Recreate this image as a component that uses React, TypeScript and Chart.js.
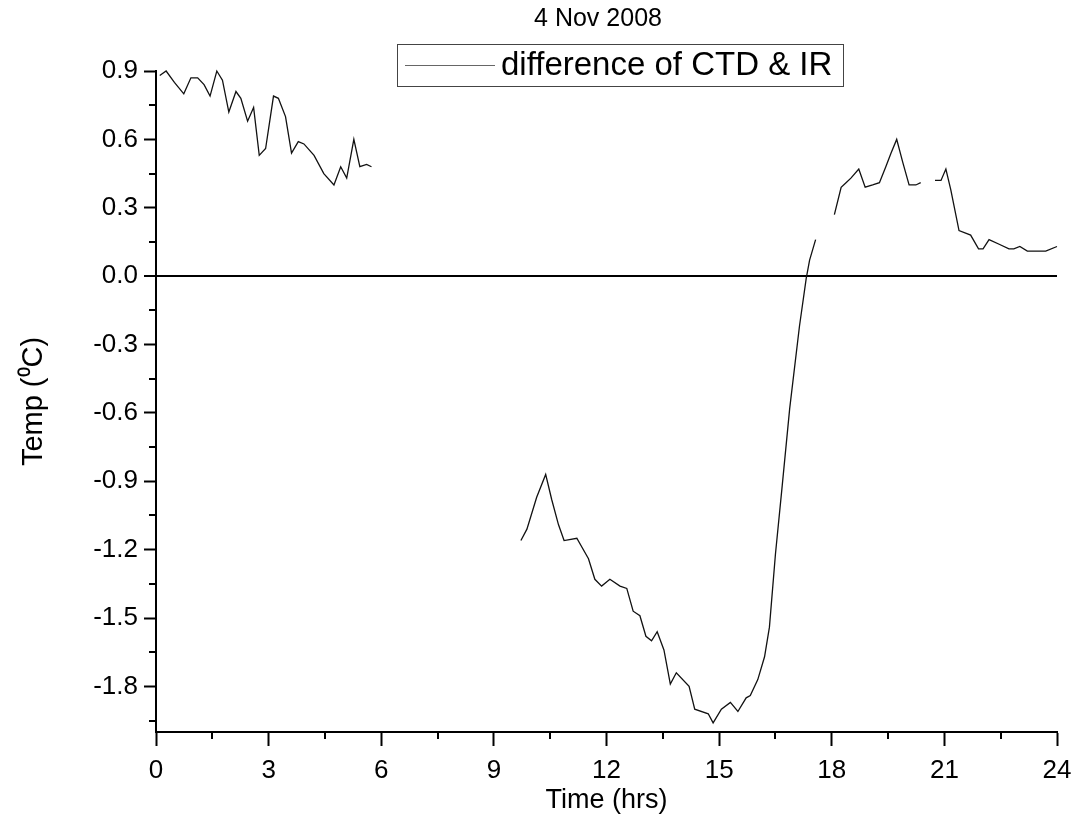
import React, { useEffect, useRef } from 'react';
import { Chart, registerables } from 'chart.js';

Chart.register(...registerables);

const titleText = '4 Nov 2008';
const seriesLabel = 'difference of CTD & IR';
const xAxisTitle = 'Time (hrs)';
const yAxisTitle = 'Temp (\u2070C)';

const xTickValues = [0, 3, 6, 9, 12, 15, 18, 21, 24];
const yTickValues = [-1.8, -1.5, -1.2, -0.9, -0.6, -0.3, 0, 0.3, 0.6, 0.9];
const xMinorTicks = [1.5, 4.5, 7.5, 10.5, 13.5, 16.5, 19.5, 22.5];
const yMinorTicks = [0.75, 0.45, 0.15, -0.15, -0.45, -0.75, -1.05, -1.35, -1.65, -1.95];

// hours of day; null temperature marks a gap in the record
const hours = [
  0.1, 0.27, 0.49, 0.74, 0.93, 1.11, 1.28, 1.44, 1.62, 1.77, 1.94, 2.13, 2.26, 2.44, 2.6, 2.75,
  2.92, 3.13, 3.26, 3.45, 3.61, 3.79, 3.94, 4.21, 4.47, 4.74, 4.92, 5.08, 5.27, 5.43, 5.61, 5.74,
  7.5,
  9.72, 9.88, 10.14, 10.38, 10.54, 10.72, 10.87, 11.21, 11.52, 11.69, 11.87, 12.09, 12.36, 12.54,
  12.71, 12.89, 13.05, 13.2, 13.35, 13.53, 13.7, 13.86, 14.2, 14.35, 14.71, 14.84, 15.06, 15.3,
  15.5, 15.72, 15.83, 16.03, 16.21, 16.34, 16.5, 16.68, 16.88, 17.14, 17.32, 17.41, 17.57,
  17.8,
  18.07, 18.25, 18.38, 18.51, 18.72, 18.89, 19.09, 19.27, 19.44, 19.58, 19.73, 19.89, 20.06,
  20.24, 20.37,
  20.55,
  20.75, 20.91, 21.04, 21.17, 21.39, 21.7, 21.91, 22.03, 22.19, 22.46, 22.72, 22.85, 23.01,
  23.21, 23.47, 23.7, 24.0,
];

const tempDiff = [
  0.88, 0.9, 0.85, 0.8, 0.87, 0.87, 0.84, 0.79, 0.9, 0.86, 0.72, 0.81, 0.78, 0.68, 0.74, 0.53,
  0.56, 0.79, 0.78, 0.7, 0.54, 0.59, 0.58, 0.53, 0.45, 0.4, 0.48, 0.43, 0.6, 0.48, 0.49, 0.48,
  null,
  -1.16, -1.11, -0.97, -0.87, -0.98, -1.09, -1.16, -1.15, -1.24, -1.33, -1.36, -1.33, -1.36, -1.37,
  -1.47, -1.49, -1.58, -1.6, -1.56, -1.64, -1.79, -1.74, -1.8, -1.9, -1.92, -1.96, -1.9, -1.87,
  -1.91, -1.85, -1.84, -1.77, -1.67, -1.54, -1.22, -0.92, -0.58, -0.22, -0.01, 0.07, 0.16,
  null,
  0.27, 0.39, 0.41, 0.43, 0.47, 0.39, 0.4, 0.41, 0.48, 0.54, 0.6, 0.5, 0.4, 0.4, 0.41,
  null,
  0.42, 0.42, 0.47, 0.38, 0.2, 0.18, 0.12, 0.12, 0.16, 0.14, 0.12, 0.12, 0.13, 0.11, 0.11, 0.11,
  0.13,
];

const FONT = '"Liberation Sans", Arial, Helvetica, sans-serif';

const decorPlugin = {
  id: 'decor',
  afterDraw(chart: any) {
    const { ctx, chartArea, scales } = chart;
    ctx.save();
    ctx.strokeStyle = '#000';
    ctx.lineWidth = 2;
    xMinorTicks.forEach((v) => {
      const px = Math.round(scales.x.getPixelForValue(v));
      ctx.beginPath();
      ctx.moveTo(px, chartArea.bottom);
      ctx.lineTo(px, chartArea.bottom + 7);
      ctx.stroke();
    });
    yMinorTicks.forEach((v) => {
      const py = Math.round(scales.y.getPixelForValue(v));
      ctx.beginPath();
      ctx.moveTo(chartArea.left, py);
      ctx.lineTo(chartArea.left - 7, py);
      ctx.stroke();
    });

    // title
    ctx.fillStyle = '#000';
    ctx.font = `25px ${FONT}`;
    ctx.textAlign = 'center';
    ctx.textBaseline = 'middle';
    ctx.fillText(titleText, 598, 19);

    // legend box
    ctx.lineWidth = 1;
    ctx.strokeStyle = '#444';
    ctx.strokeRect(397.5, 44.5, 446, 42);
    ctx.strokeStyle = '#666';
    ctx.beginPath();
    ctx.moveTo(405, 65.5);
    ctx.lineTo(495, 65.5);
    ctx.stroke();
    ctx.font = `33px ${FONT}`;
    ctx.textAlign = 'left';
    ctx.fillText(seriesLabel, 501, 66);
    ctx.restore();
  },
};

export default function App() {
  const canvasRef = useRef<HTMLCanvasElement | null>(null);

  useEffect(() => {
    if (!canvasRef.current) return;
    const points = hours.map((h, i) => ({ x: h, y: tempDiff[i] }));
    const chart = new Chart(canvasRef.current, {
      type: 'line',
      data: {
        datasets: [
          {
            label: seriesLabel,
            data: points as any,
            borderColor: '#111',
            borderWidth: 1.3,
            pointRadius: 0,
            tension: 0,
            spanGaps: false,
            clip: false as any,
          },
        ],
      },
      options: {
        responsive: false,
        animation: false,
        layout: { padding: { top: 71, left: 0, right: 21, bottom: 0 } },
        plugins: {
          legend: { display: false },
          tooltip: { enabled: false },
          title: { display: false },
        },
        scales: {
          x: {
            type: 'linear',
            min: 0,
            max: 24,
            afterBuildTicks: (scale: any) => {
              scale.ticks = xTickValues.map((value) => ({ value }));
            },
            afterFit: (scale: any) => {
              scale.height = 88;
              scale.paddingLeft = 0;
              scale.paddingRight = 0;
            },
            ticks: {
              color: '#000',
              font: { family: FONT, size: 26 },
              padding: 9,
              maxRotation: 0,
              autoSkip: false,
              callback: (v: any) => String(v),
            },
            grid: {
              drawOnChartArea: false,
              drawTicks: true,
              tickLength: 14,
              tickWidth: 2,
              tickColor: '#000',
            },
            border: { color: '#000', width: 2 },
            title: {
              display: true,
              text: xAxisTitle,
              color: '#000',
              font: { family: FONT, size: 27 },
              padding: { top: 0, bottom: 3 },
            },
          },
          y: {
            type: 'linear',
            min: -2.0,
            max: 0.9,
            afterBuildTicks: (scale: any) => {
              scale.ticks = yTickValues.map((value) => ({ value }));
            },
            afterFit: (scale: any) => {
              scale.width = 156;
            },
            ticks: {
              color: '#000',
              font: { family: FONT, size: 26 },
              padding: 6,
              autoSkip: false,
              callback: (v: any) => Number(v).toFixed(1),
            },
            grid: {
              drawOnChartArea: true,
              drawTicks: true,
              tickLength: 12,
              tickWidth: 2,
              tickColor: '#000',
              color: (c: any) => (c.tick && Math.abs(c.tick.value) < 1e-9 ? '#000' : 'rgba(0,0,0,0)'),
              lineWidth: (c: any) => (c.tick && Math.abs(c.tick.value) < 1e-9 ? 2 : 1),
            },
            border: { color: '#000', width: 2 },
            title: {
              display: true,
              text: yAxisTitle,
              color: '#000',
              font: { family: FONT, size: 29 },
              padding: { top: 17, bottom: 0 },
            },
          },
        },
      },
      plugins: [decorPlugin],
    });
    return () => chart.destroy();
  }, []);

  return (
    <div style={{ position: 'fixed', left: 0, top: 0, width: 1078, height: 820, background: '#fff' }}>
      <canvas ref={canvasRef} width={1078} height={820} style={{ display: 'block' }} />
    </div>
  );
}
